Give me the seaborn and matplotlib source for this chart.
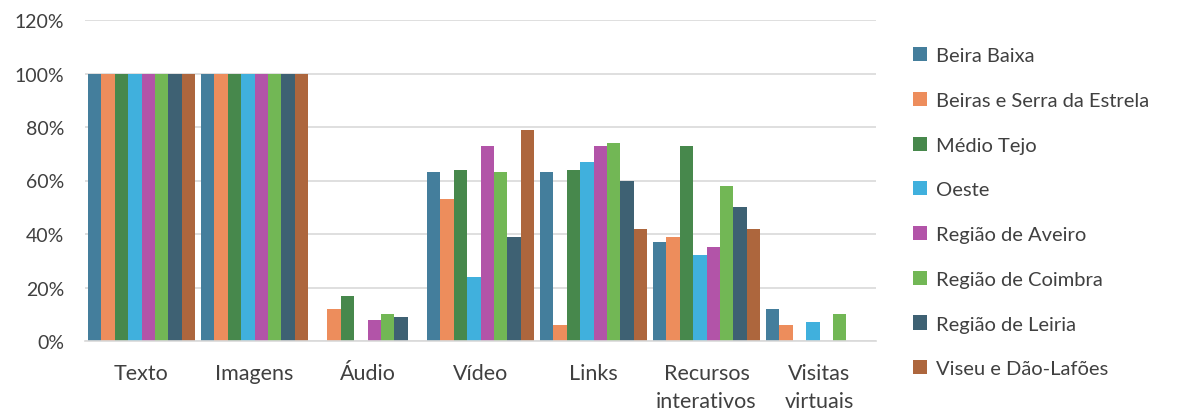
import matplotlib
matplotlib.use("Agg")
import matplotlib.pyplot as plt
import seaborn as sns
import pandas as pd
from matplotlib.ticker import FuncFormatter

categories = ["Texto", "Imagens", "Áudio", "Vídeo", "Links", "Recursos\ninterativos", "Visitas\nvirtuais"]
regions = ["Beira Baixa", "Beiras e Serra da Estrela", "Médio Tejo", "Oeste",
           "Região de Aveiro", "Região de Coimbra", "Região de Leiria", "Viseu e Dão-Lafões"]

beira_baixa = [100, 100, 0, 63, 63, 37, 12]
beiras_serra = [100, 100, 12, 53, 6, 39, 6]
medio_tejo = [100, 100, 17, 64, 64, 73, 0]
oeste = [100, 100, 0, 24, 67, 32, 7]
aveiro = [100, 100, 8, 73, 73, 35, 0]
coimbra = [100, 100, 10, 63, 74, 58, 10]
leiria = [100, 100, 9, 39, 60, 50, 0]
viseu = [100, 100, 0, 79, 42, 42, 0]

colors = ["#447E9C", "#ED8D5C", "#47884C", "#40B0DD", "#B254A8", "#72B755", "#3E6173", "#AD663D"]

series = [beira_baixa, beiras_serra, medio_tejo, oeste, aveiro, coimbra, leiria, viseu]
rows = []
for reg, vals in zip(regions, series):
    for cat, v in zip(categories, vals):
        rows.append({"cat": cat, "region": reg, "value": v})
df = pd.DataFrame(rows)

sns.set_theme(style="white")
plt.rcParams["font.family"] = ["Lato", "DejaVu Sans"]

fig = plt.figure(figsize=(11.77, 4.14), dpi=100)
ax = fig.add_axes([85 / 1177, 1 - 342 / 414, 791 / 1177, 321 / 414])

sns.barplot(data=df, x="cat", y="value", hue="region", order=categories,
            hue_order=regions, palette=colors, width=0.95, ax=ax,
            linewidth=0, saturation=1, errorbar=None)

ax.set_ylim(0, 120)
ax.set_yticks(range(0, 121, 20))
ax.yaxis.set_major_formatter(FuncFormatter(lambda v, p: f"{int(v)}%"))
ax.grid(axis="y", color="#D9D9D9", linewidth=1.2)
ax.set_axisbelow(True)
for s in ["top", "right", "left"]:
    ax.spines[s].set_visible(False)
ax.spines["bottom"].set_color("#D9D9D9")
ax.spines["bottom"].set_linewidth(1.2)
ax.set_xlabel("")
ax.set_ylabel("")
ax.tick_params(axis="y", length=0, labelsize=14, colors="#404040", pad=15)
ax.tick_params(axis="x", length=0, labelsize=15.5, colors="#404040", pad=16)
for lbl in ax.get_xticklabels():
    lbl.set_linespacing(1.5)
ax.set_xlim(-0.5, 6.5)

handles, labels = ax.get_legend_handles_labels()
ax.legend(handles, labels, loc="upper left", bbox_to_anchor=(1.037, 0.94),
          frameon=False, fontsize=14.5, labelcolor="#404040",
          handlelength=0.7, handleheight=0.7, handletextpad=0.45,
          labelspacing=1.37, borderaxespad=0)

fig.savefig("out.png", dpi=100)
